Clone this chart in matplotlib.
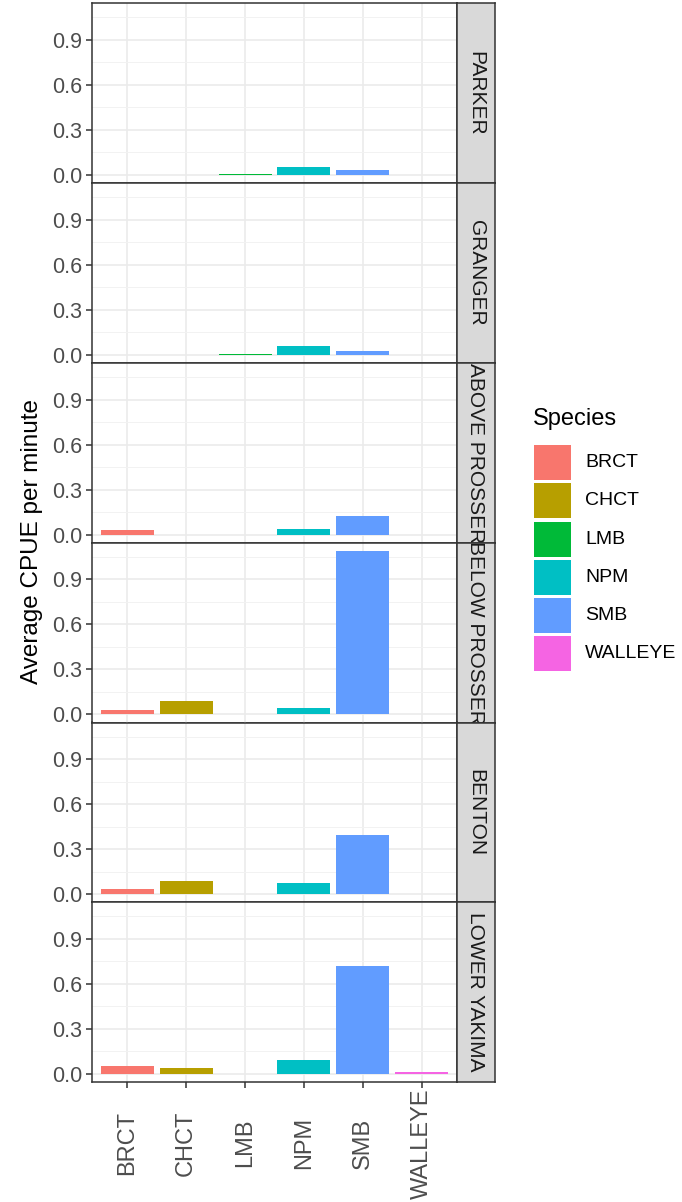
import matplotlib
matplotlib.use('Agg')
import matplotlib.pyplot as plt
from matplotlib.patches import Rectangle

plt.rcParams['font.family'] = ['Liberation Sans', 'DejaVu Sans']

# data
species = ['BRCT', 'CHCT', 'LMB', 'NPM', 'SMB', 'WALLEYE']
colors = ['#F8766D', '#B79F00', '#00BA38', '#00BFC4', '#619CFF', '#F564E3']
sites = ['PARKER', 'GRANGER', 'ABOVE PROSSER', 'BELOW PROSSER', 'BENTON', 'LOWER YAKIMA']

parker = [0, 0, 0.005, 0.055, 0.034, 0]
granger = [0, 0, 0.005, 0.060, 0.025, 0]
above_prosser = [0.031, 0, 0, 0.038, 0.123, 0]
below_prosser = [0.027, 0.089, 0.005, 0.040, 1.091, 0]
benton = [0.035, 0.087, 0, 0.075, 0.394, 0]
lower_yakima = [0.056, 0.042, 0, 0.094, 0.722, 0.010]
values = [parker, granger, above_prosser, below_prosser, benton, lower_yakima]

W, H = 682, 1202
fig = plt.figure(figsize=(W / 100, H / 100), dpi=100)

# panel geometry in pixels
left, right = 92, 457
strip_r = 495
top0, ph = 3.3, 179.8

for i, (site, vals) in enumerate(zip(sites, values)):
    top = top0 + i * ph
    ax = fig.add_axes([left / W, 1 - (top + ph) / H, (right - left) / W, ph / H])
    x = list(range(len(species)))
    ax.bar(x, vals, width=0.9, color=colors, zorder=2)
    ax.set_xlim(-0.6, 5.6)
    ax.set_ylim(-0.0545, 1.1445)
    ax.set_yticks([0, 0.3, 0.6, 0.9])
    ax.set_yticklabels(['0.0', '0.3', '0.6', '0.9'])
    ax.set_yticks([0.15, 0.45, 0.75, 1.05], minor=True)
    ax.set_xticks(x)
    ax.grid(which='major', color='#EBEBEB', lw=1.2, zorder=0)
    ax.grid(which='minor', axis='y', color='#F2F2F2', lw=0.7, zorder=0)
    ax.set_axisbelow(True)
    for s in ax.spines.values():
        s.set_color('#333333')
        s.set_linewidth(1.1)
    ax.tick_params(axis='y', which='major', length=4, width=1.1, color='#333333',
                   labelcolor='#4D4D4D', labelsize=15.5, pad=3)
    ax.tick_params(axis='y', which='minor', length=0)
    if i < len(sites) - 1:
        ax.tick_params(axis='x', length=0, labelbottom=False)
    else:
        ax.set_xticklabels(species, rotation=90, fontsize=17, color='#4D4D4D',
                           va='center', ha='center')
        ax.tick_params(axis='x', length=4, width=1.1, color='#333333', pad=40)

    # facet strip
    sax = fig.add_axes([right / W, 1 - (top + ph) / H, (strip_r - right) / W, ph / H])
    sax.set_facecolor('#D9D9D9')
    sax.set_xticks([])
    sax.set_yticks([])
    for s in sax.spines.values():
        s.set_color('#333333')
        s.set_linewidth(1.1)
    sax.text(0.5, 0.5, site, rotation=-90, ha='center', va='center',
             fontsize=15, color='#1A1A1A', transform=sax.transAxes)

fig.text(32 / W, 1 - 541 / H, 'Average CPUE per minute', rotation=90,
         ha='center', va='center', fontsize=17.5, color='black')

# legend
fig.text(533 / W, 1 - 419 / H, 'Species', ha='left', va='center', fontsize=17)
for j, (sp, c) in enumerate(zip(species, colors)):
    ky = 445 + j * 38.3
    fig.add_artist(Rectangle((534 / W, 1 - (ky + 35) / H), 37 / W, 35 / H,
                             transform=fig.transFigure, facecolor=c, edgecolor='none'))
    fig.text(585 / W, 1 - (ky + 17.5) / H, sp, ha='left', va='center', fontsize=14)

fig.savefig('out.png', dpi=100)
